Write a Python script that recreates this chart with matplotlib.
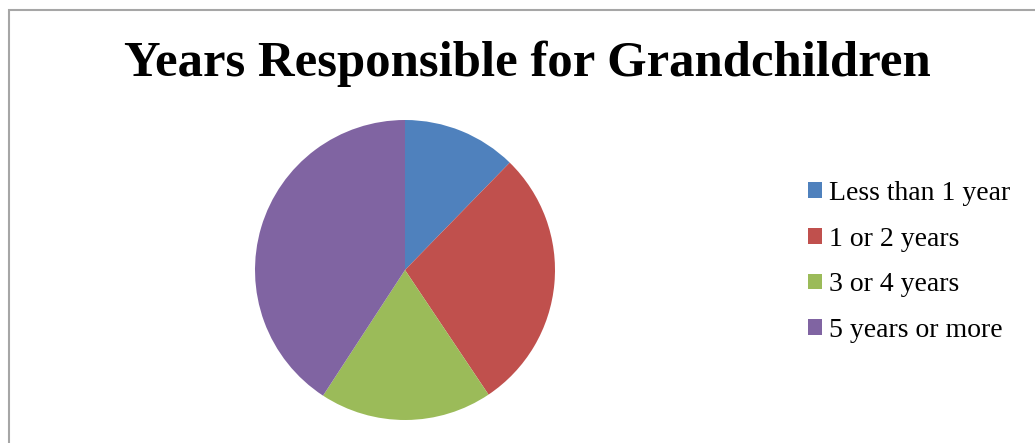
import matplotlib
matplotlib.use("Agg")
import matplotlib.pyplot as plt
from matplotlib.patches import Patch, Rectangle

# data (percent)
labels = ["Less than 1 year", "1 or 2 years", "3 or 4 years", "5 years or more"]
values = [12.3, 28.3, 18.6, 40.8]
colors = ["#4F81BD", "#C0504D", "#9BBB59", "#8064A2"]

W, H = 1035, 443
fig = plt.figure(figsize=(W / 100, H / 100), dpi=100)
fig.patch.set_facecolor("white")

# gray chart-area border (runs past right and bottom edges)
fig.add_artist(Rectangle((8.5 / W, -0.1), 1.2, 1 - 10.5 / H + 0.1,
                         transform=fig.transFigure, fill=False,
                         edgecolor="#A6A6A6", linewidth=1.5))

fig.text(527 / W, 1 - 64 / H, "Years Responsible for Grandchildren",
         ha="center", va="center", fontsize=36.5, fontweight="bold",
         family="Liberation Serif")

# pie centre (405, 270), radius 150 px
cx, cy, r = 405, 270, 150
ax = fig.add_axes([(cx - r) / W, 1 - (cy + r) / H, 2 * r / W, 2 * r / H])
ax.pie(values, colors=colors, startangle=90, counterclock=False, radius=1,
       wedgeprops=dict(linewidth=0))
ax.set_xlim(-1, 1)
ax.set_ylim(-1, 1)
ax.set_aspect("equal")
ax.axis("off")

handles = [Patch(facecolor=c, edgecolor="none") for c in colors]
fig.legend(handles, labels, loc="center left",
           bbox_to_anchor=(794 / W, 1 - 262 / H), frameon=False,
           prop=dict(family="Liberation Serif", size=20),
           handlelength=0.5, handleheight=0.5, handletextpad=0.25,
           labelspacing=0.75, borderpad=0)

fig.savefig("out.png", dpi=100)
